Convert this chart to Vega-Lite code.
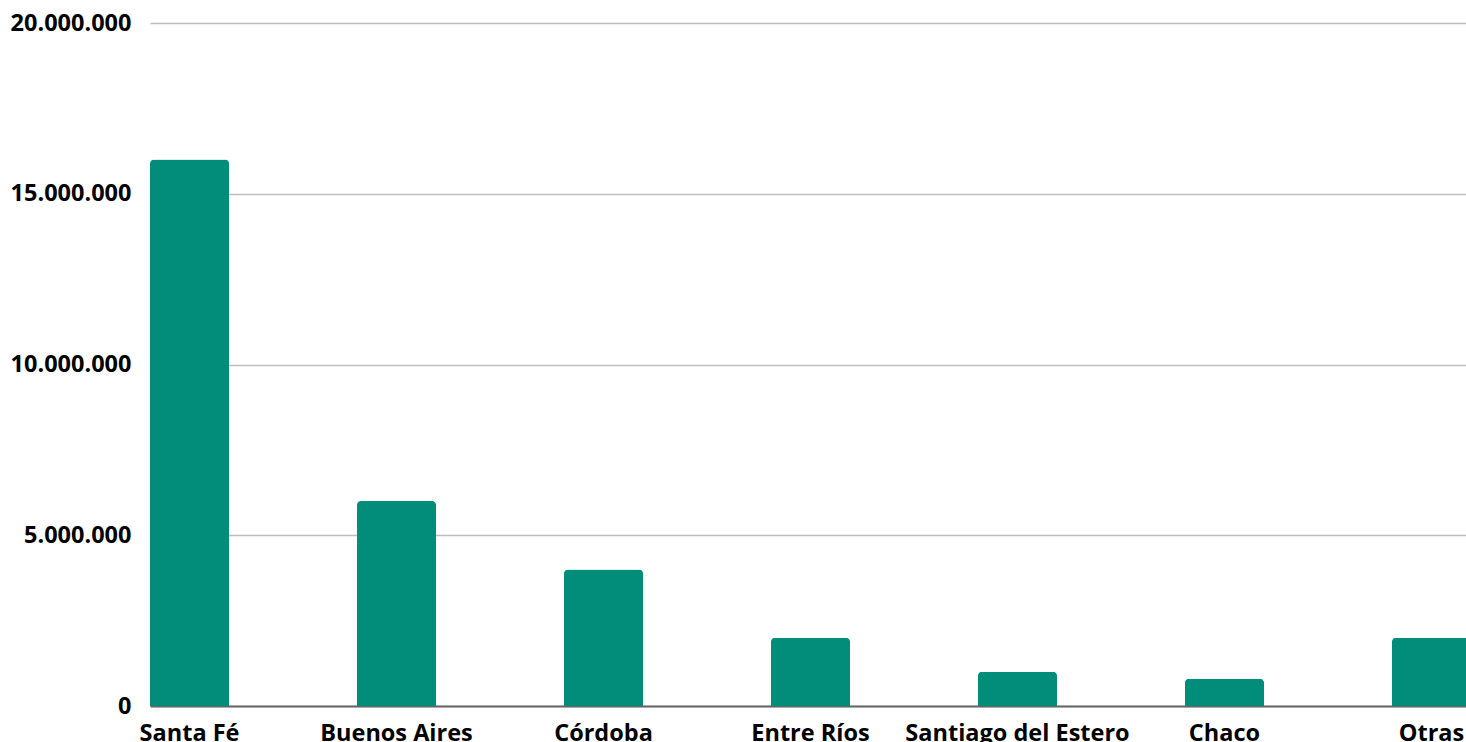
{
  "$schema": "https://vega.github.io/schema/vega-lite/v6.json",
  "autosize": {"type": "none"},
  "width": 1321,
  "height": 683,
  "padding": {"left": 150, "top": 23, "right": 0, "bottom": 36},
  "background": "white",
  "config": {
    "locale": {"number": {"decimal": ",", "thousands": ".", "grouping": [3], "currency": ["$", ""]}},
    "view": {"stroke": null},
    "font": "Open Sans"
  },
  "data": {
    "values": [
      {"provincia": "Santa Fé", "valor": 16000000},
      {"provincia": "Buenos Aires", "valor": 6000000},
      {"provincia": "Córdoba", "valor": 4000000},
      {"provincia": "Entre Ríos", "valor": 2000000},
      {"provincia": "Santiago del Estero", "valor": 1000000},
      {"provincia": "Chaco", "valor": 800000},
      {"provincia": "Otras", "valor": 2000000}
    ]
  },
  "mark": {"type": "bar", "color": "#028C7A", "cornerRadiusTopLeft": 4, "cornerRadiusTopRight": 4},
  "encoding": {
    "x": {
      "field": "provincia",
      "type": "nominal",
      "sort": null,
      "scale": {"paddingInner": 0.618, "paddingOuter": 0},
      "axis": {
        "title": null,
        "labelAngle": 0,
        "labelFont": "Open Sans",
        "labelFontWeight": "bold",
        "labelFontSize": 23.5,
        "labelColor": "#000000",
        "labelPadding": 15,
        "labelOverlap": false,
        "labelBound": false,
        "labelLimit": 1000,
        "ticks": false,
        "domainColor": "#666666",
        "domainWidth": 2,
        "grid": false
      }
    },
    "y": {
      "field": "valor",
      "type": "quantitative",
      "scale": {"domain": [0, 20000000], "nice": false},
      "axis": {
        "title": null,
        "values": [0, 5000000, 10000000, 15000000, 20000000],
        "format": ",d",
        "labelFont": "Open Sans",
        "labelFontWeight": "bold",
        "labelFontSize": 23.5,
        "labelColor": "#000000",
        "labelPadding": 19,
        "ticks": false,
        "domain": false,
        "grid": true,
        "gridColor": "#BDBDBD",
        "gridWidth": 1.3
      }
    }
  }
}
